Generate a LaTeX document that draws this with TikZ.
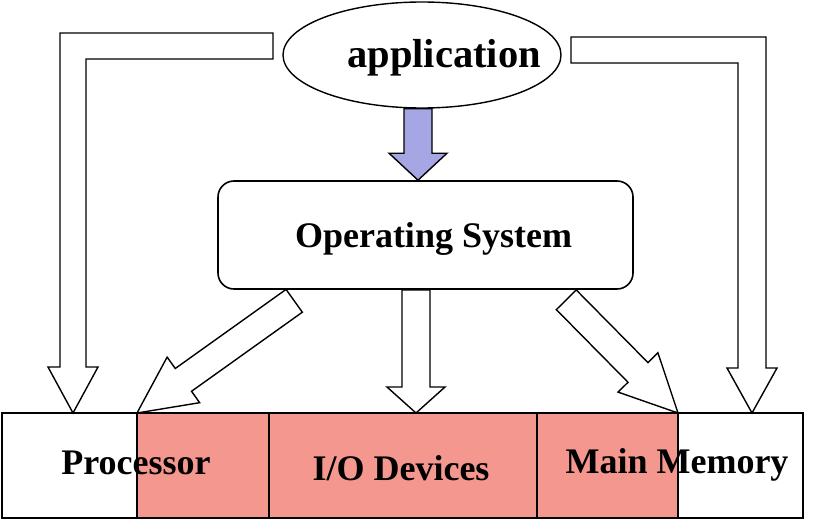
\documentclass[tikz,border=0pt]{standalone}
\usepackage{fontspec}
\setmainfont{Liberation Serif}
\usepackage{tikz}
\usetikzlibrary{positioning,calc,shapes.geometric}
\definecolor{AppBlue}{HTML}{A6A6E4}
\definecolor{UnitRed}{HTML}{F4978F}

\newcommand\fatarrow[5]{%
  \coordinate (fa-b) at ($(#5)!#2pt!(#4)$);
  \draw[blockline,fill=#1] ($(#4)!14pt!90:(#5)$) -- ($(fa-b)!14pt!90:(#5)$) -- ($(fa-b)!#3pt!90:(#5)$) -- (#5)
    -- ($(fa-b)!#3pt!-90:(#5)$) -- ($(fa-b)!14pt!-90:(#5)$) -- ($(#4)!14pt!-90:(#5)$) -- cycle;
}

\begin{document}
\begin{tikzpicture}[
  x=1pt,y=-1pt,
  lbl/.style={font=\bfseries\fontsize{36}{40}\selectfont,inner sep=0pt},
  blockline/.style={draw=black,line width=1.4pt,line join=miter},
  unit/.style={draw=black,line width=2pt,minimum height=105pt,outer sep=0pt,inner sep=0pt},
  osbox/.style={draw=black,line width=1.6pt,rounded corners=16pt,minimum width=415pt,minimum height=108pt,
    text height=30pt,text depth=6pt,font=\bfseries\fontsize{36}{40}\selectfont},
  appell/.style={ellipse,draw=black,line width=1.4pt,minimum width=278pt,minimum height=106pt,inner sep=0pt}
]
\useasboundingbox (0,0) rectangle (818,522);
\node[appell] (app) at (422,55) {};
\node[lbl,anchor=base,font=\bfseries\fontsize{40.5}{44}\selectfont] (applbl) at (444,67) {application};
\node[osbox] (os) at (425.5,235) {\hspace*{16pt}Operating System};

\node[unit,minimum width=135pt] (proc) at (69.5,465.5) {};
\node[unit,fill=UnitRed,minimum width=132pt,right=0pt of proc] (cpu) {};
\node[unit,fill=UnitRed,minimum width=268pt,right=0pt of cpu] (iodev) {};
\node[unit,fill=UnitRed,minimum width=141pt,right=0pt of iodev] (mainmem) {};
\node[unit,minimum width=125pt,right=0pt of mainmem] (mem) {};
\node[lbl,anchor=base] (proclbl) at (136,474) {Processor};
\node[lbl,anchor=base] (iolbl) at (401,480) {I/O Devices};
\node[lbl,anchor=base] (memlbl) at (677,473) {Main Memory};

\coordinate (bstart) at ($(app.south)+(-4,0)$);
\coordinate (btip) at (bstart |- os.north);
\fatarrow{AppBlue}{27}{29}{bstart}{btip}
\coordinate (mstart) at ($(os.south)+(-9.5,0)$);
\coordinate (mtip) at (mstart |- iodev.north);
\fatarrow{white}{26}{29}{mstart}{mtip}
\coordinate (lstart) at ($(os.south west)+(77,11)$);
\fatarrow{white}{57}{28}{lstart}{cpu.north west}
\coordinate (rstart) at ($(os.south east)+(-67.5,10)$);
\fatarrow{white}{57}{28}{rstart}{mainmem.north east}

\coordinate (ltip) at ($(proc.north)+(3.5,0)$);
\draw[blockline,fill=white] (ltip) -- ++(-25,-46) -- ++(12,0) -- ++(0,-334) -- ++(213,0) -- ++(0,26)
  -- ++(-187,0) -- ++(0,308) -- ++(12,0) -- cycle;
\coordinate (rtip) at ($(mem.north)+(11.5,0)$);
\draw[blockline,fill=white] (rtip) -- ++(25,-45) -- ++(-11,0) -- ++(0,-331) -- ++(-195,0) -- ++(0,26)
  -- ++(167,0) -- ++(0,305) -- ++(-11,0) -- cycle;
\end{tikzpicture}
\end{document}
